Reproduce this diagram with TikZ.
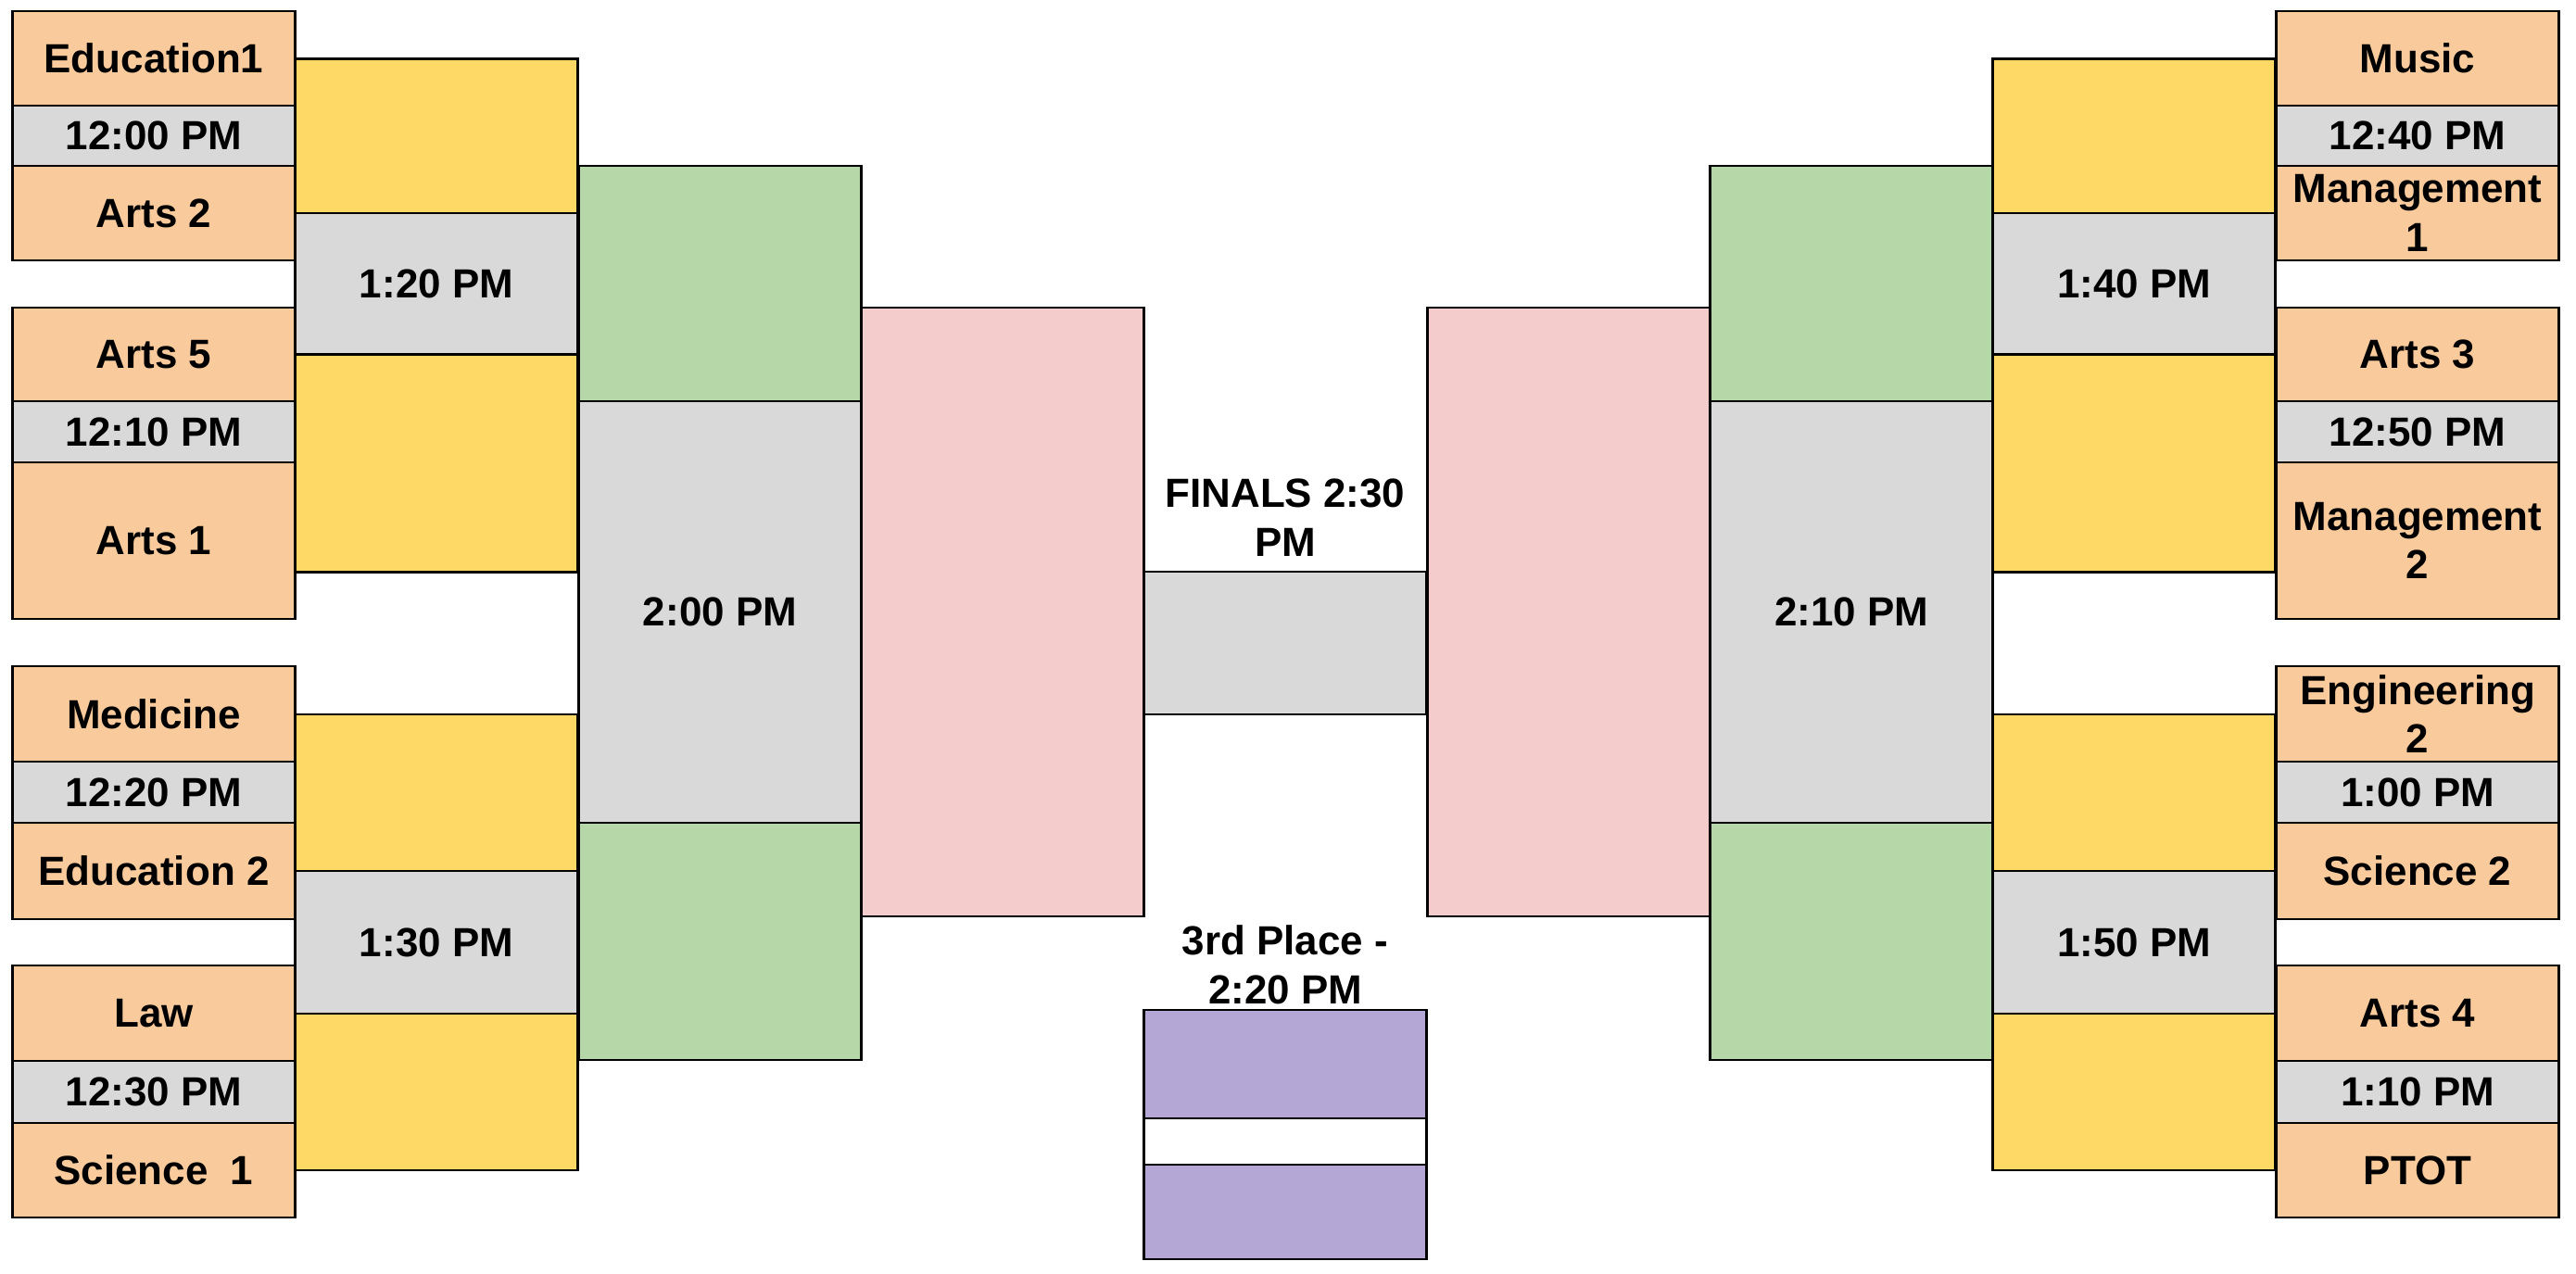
\documentclass[tikz,border=0pt]{standalone}
\usepackage{fontspec}
\setmainfont{Liberation Sans}
\definecolor{brpeach}{HTML}{F9CB9C}
\definecolor{brgray}{HTML}{D9D9D9}
\definecolor{bryellow}{HTML}{FFD966}
\definecolor{brgreen}{HTML}{B6D7A8}
\definecolor{brpink}{HTML}{F4CCCC}
\definecolor{brpurple}{HTML}{B4A7D6}
\tikzset{
  cell/.style={draw, line width=0.8pt, fill=#1, minimum width=3.05cm, inner sep=0pt,
               font=\bfseries\fontsize{12.5}{15}\selectfont, align=center},
  tag/.style={font=\bfseries\fontsize{12.5}{15}\selectfont, align=center, inner sep=0pt},
}

\begin{document}
\begin{tikzpicture}
\useasboundingbox (0,0) rectangle (27.8,13.74);

% Left teams
\node[cell=brpeach, minimum height=1.02cm] (edu1) at (1.66,13.11) {Education1};
\node[cell=brgray, minimum height=0.65cm] (t1200) at (1.66,12.275) {12:00 PM};
\node[cell=brpeach, minimum height=1.02cm] (arts2) at (1.66,11.44) {Arts 2};
\node[cell=brpeach, minimum height=1.01cm] (arts5) at (1.66,9.915) {Arts 5};
\node[cell=brgray, minimum height=0.66cm] (t1210) at (1.66,9.08) {12:10 PM};
\node[cell=brpeach, minimum height=1.69cm] (arts1) at (1.66,7.905) {Arts 1};
\node[cell=brpeach, minimum height=1.03cm] (med) at (1.66,6.035) {Medicine};
\node[cell=brgray, minimum height=0.66cm] (t1220) at (1.66,5.19) {12:20 PM};
\node[cell=brpeach, minimum height=1.04cm] (edu2) at (1.66,4.34) {Education 2};
\node[cell=brpeach, minimum height=1.03cm] (law) at (1.66,2.805) {Law};
\node[cell=brgray, minimum height=0.67cm] (t1230) at (1.66,1.955) {12:30 PM};
\node[cell=brpeach, minimum height=1.02cm] (sci1) at (1.66,1.11) {Science\ \ 1};

% Left quarter finals
\node[cell=bryellow, minimum height=1.666cm] (lqA) at (4.71,12.273) {};
\node[cell=brgray, minimum height=1.526cm] (t120) at (4.71,10.677) {1:20 PM};
\node[cell=bryellow, minimum height=2.348cm] (lqB) at (4.71,8.74) {};
\node[cell=bryellow, minimum height=1.69cm] (lqC) at (4.71,5.185) {};
\node[cell=brgray, minimum height=1.54cm] (t130) at (4.71,3.57) {1:30 PM};
\node[cell=bryellow, minimum height=1.69cm] (lqD) at (4.71,1.955) {};

% Left semi finals
\node[cell=brgreen, minimum height=2.54cm] (lsA) at (7.77,10.68) {};
\node[cell=brgray, minimum height=4.55cm] (t200) at (7.77,7.135) {2:00 PM};
\node[cell=brgreen, minimum height=2.56cm] (lsB) at (7.77,3.58) {};
\node[cell=brpink, minimum height=6.57cm] (lfin) at (10.82,7.135) {};

% Finals and 3rd place
\node[cell=brgray, minimum height=1.54cm] (final) at (13.87,6.80) {};
\node[tag] (finlbl) at (13.87,8.15) {FINALS 2:30\\PM};
\node[tag] (thirdlbl) at (13.87,3.33) {3rd Place -\\2:20 PM};
\node[cell=brpurple, minimum height=1.17cm] (thirdA) at (13.87,2.255) {};
\node[cell=white, minimum height=0.5cm] (thirdgap) at (13.87,1.42) {};
\node[cell=brpurple, minimum height=1.02cm] (thirdB) at (13.87,0.66) {};

% Right semi finals
\node[cell=brpink, minimum height=6.57cm] (rfin) at (16.93,7.135) {};
\node[cell=brgreen, minimum height=2.54cm] (rsA) at (19.98,10.68) {};
\node[cell=brgray, minimum height=4.55cm] (t210) at (19.98,7.135) {2:10 PM};
\node[cell=brgreen, minimum height=2.56cm] (rsB) at (19.98,3.58) {};

% Right quarter finals
\node[cell=bryellow, minimum height=1.666cm] (rqA) at (23.03,12.273) {};
\node[cell=brgray, minimum height=1.526cm] (t140) at (23.03,10.677) {1:40 PM};
\node[cell=bryellow, minimum height=2.348cm] (rqB) at (23.03,8.74) {};
\node[cell=bryellow, minimum height=1.69cm] (rqC) at (23.03,5.185) {};
\node[cell=brgray, minimum height=1.54cm] (t150) at (23.03,3.57) {1:50 PM};
\node[cell=bryellow, minimum height=1.69cm] (rqD) at (23.03,1.955) {};

% Right teams
\node[cell=brpeach, minimum height=1.02cm] (music) at (26.09,13.11) {Music};
\node[cell=brgray, minimum height=0.65cm] (t1240) at (26.09,12.275) {12:40 PM};
\node[cell=brpeach, minimum height=1.02cm] (mgmt1) at (26.09,11.44) {Management\\1};
\node[cell=brpeach, minimum height=1.01cm] (arts3) at (26.09,9.915) {Arts 3};
\node[cell=brgray, minimum height=0.66cm] (t1250) at (26.09,9.08) {12:50 PM};
\node[cell=brpeach, minimum height=1.69cm] (mgmt2) at (26.09,7.905) {Management\\2};
\node[cell=brpeach, minimum height=1.03cm] (eng2) at (26.09,6.035) {Engineering\\2};
\node[cell=brgray, minimum height=0.66cm] (t100) at (26.09,5.19) {1:00 PM};
\node[cell=brpeach, minimum height=1.04cm] (sci2) at (26.09,4.34) {Science 2};
\node[cell=brpeach, minimum height=1.03cm] (arts4) at (26.09,2.805) {Arts 4};
\node[cell=brgray, minimum height=0.67cm] (t110) at (26.09,1.955) {1:10 PM};
\node[cell=brpeach, minimum height=1.02cm] (ptot) at (26.09,1.11) {PTOT};

\end{tikzpicture}
\end{document}
